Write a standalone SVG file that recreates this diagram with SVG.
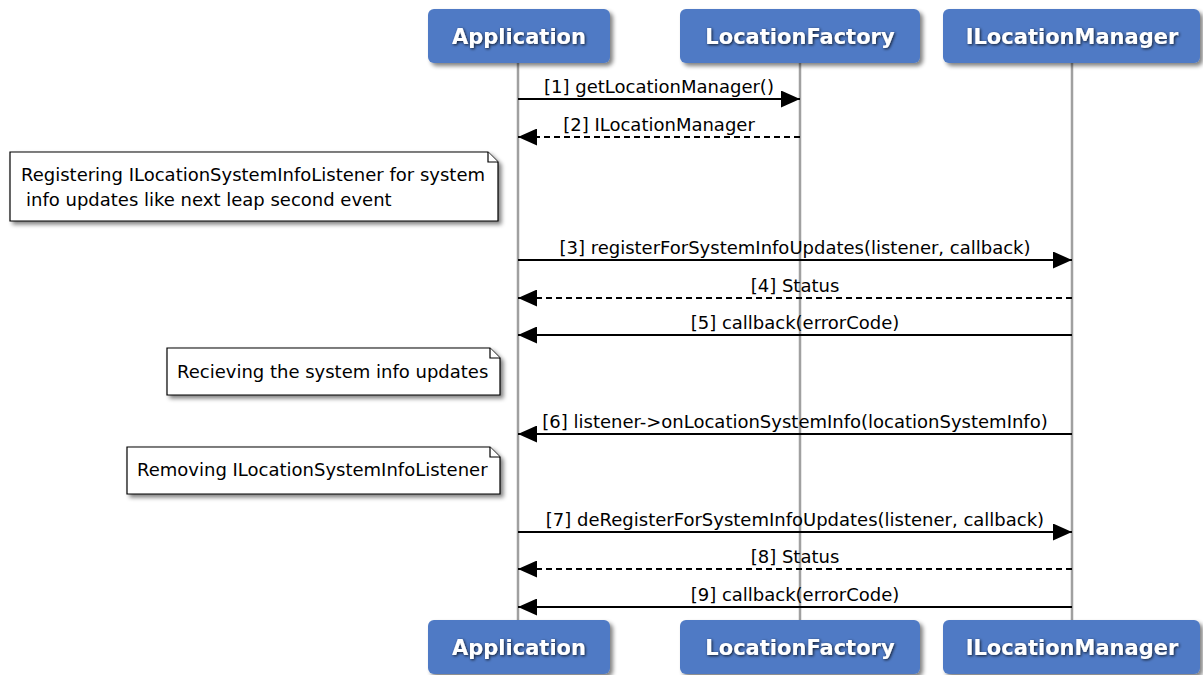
<svg xmlns="http://www.w3.org/2000/svg" width="1203" height="675" viewBox="0 0 1203 675">
<defs>
<filter id="sh" x="-10%" y="-20%" width="130%" height="160%">
<feGaussianBlur in="SourceAlpha" stdDeviation="2"/>
<feOffset dx="3" dy="3" result="b"/>
<feComponentTransfer><feFuncA type="linear" slope="0.5"/></feComponentTransfer>
<feMerge><feMergeNode/><feMergeNode in="SourceGraphic"/></feMerge>
</filter>
<filter id="ts" x="-10%" y="-30%" width="120%" height="160%">
<feGaussianBlur in="SourceAlpha" stdDeviation="1.5"/>
<feOffset dx="1" dy="1"/>
<feComponentTransfer><feFuncA type="linear" slope="0.8"/></feComponentTransfer>
<feMerge><feMergeNode/><feMergeNode in="SourceGraphic"/></feMerge>
</filter>
<marker id="ah" markerWidth="19" markerHeight="17" refX="19" refY="8.5" orient="auto" markerUnits="userSpaceOnUse">
<path d="M0,0 L19,8.5 L0,17 z" fill="#000"/>
</marker>
</defs>
<style>
.box{fill:#4f7ac5;filter:url(#sh)}
.bt{font-family:"DejaVu Sans",sans-serif;font-weight:bold;font-size:21px;fill:#fff;text-anchor:middle;filter:url(#ts)}
.life{stroke:#a0a0a0;stroke-width:2.5;fill:none}
.msg{stroke:#000;stroke-width:2;fill:none;marker-end:url(#ah)}
.dash{stroke-dasharray:6,4}
.ml{font-family:"DejaVu Sans",sans-serif;font-size:18px;fill:#000;text-anchor:middle}
.note{fill:#fff;stroke:#000;stroke-width:1.2;filter:url(#sh)}
.fold{fill:#fff;stroke:#000;stroke-width:1.2}
.nt{font-family:"DejaVu Sans",sans-serif;font-size:18px;fill:#000}
</style>
<rect width="1203" height="675" fill="#fff"/>
<g id="lifelines">
<line class="life" x1="518" y1="63" x2="518" y2="620"/>
<line class="life" x1="800" y1="63" x2="800" y2="620"/>
<line class="life" x1="1072" y1="63" x2="1072" y2="620"/>
</g>
<g id="Application">
<rect class="box" x="428" y="9" width="182" height="54" rx="6"/>
<text class="bt" x="519" y="44">Application</text>
<rect class="box" x="428" y="620" width="182" height="54" rx="6"/>
<text class="bt" x="519" y="655">Application</text>
</g>
<g id="LocationFactory">
<rect class="box" x="680" y="9" width="240" height="54" rx="6"/>
<text class="bt" x="800" y="44">LocationFactory</text>
<rect class="box" x="680" y="620" width="240" height="54" rx="6"/>
<text class="bt" x="800" y="655">LocationFactory</text>
</g>
<g id="ILocationManager">
<rect class="box" x="943" y="9" width="257" height="54" rx="6"/>
<text class="bt" x="1072" y="44">ILocationManager</text>
<rect class="box" x="943" y="620" width="257" height="54" rx="6"/>
<text class="bt" x="1072" y="655">ILocationManager</text>
</g>
<g id="note1">
<path class="note" d="M10,152 H488 L498,162 V221 H10 Z"/>
<path class="fold" d="M488,152 V162 H498"/>
<text class="nt" x="21" y="181">Registering ILocationSystemInfoListener for system</text>
<text class="nt" x="26" y="206">info updates like next leap second event</text>
</g>
<g id="note2">
<path class="note" d="M167,348 H490 L500,358 V395 H167 Z"/>
<path class="fold" d="M490,348 V358 H500"/>
<text class="nt" x="177" y="378">Recieving the system info updates</text>
</g>
<g id="note3">
<path class="note" d="M127,447 H490 L500,457 V494 H127 Z"/>
<path class="fold" d="M490,447 V457 H500"/>
<text class="nt" x="137" y="476">Removing ILocationSystemInfoListener</text>
</g>
<g id="connectors">
<line class="msg" x1="518" y1="99" x2="800" y2="99"/>
<text class="ml" x="659" y="93">[1] getLocationManager()</text>
<line class="msg dash" x1="800" y1="137" x2="518" y2="137"/>
<text class="ml" x="659" y="131">[2] ILocationManager</text>
<line class="msg" x1="518" y1="260" x2="1072" y2="260"/>
<text class="ml" x="795" y="254">[3] registerForSystemInfoUpdates(listener, callback)</text>
<line class="msg dash" x1="1072" y1="298" x2="518" y2="298"/>
<text class="ml" x="795" y="292">[4] Status</text>
<line class="msg" x1="1072" y1="335" x2="518" y2="335"/>
<text class="ml" x="795" y="329">[5] callback(errorCode)</text>
<line class="msg" x1="1072" y1="434" x2="518" y2="434"/>
<text class="ml" x="795" y="428">[6] listener-&gt;onLocationSystemInfo(locationSystemInfo)</text>
<line class="msg" x1="518" y1="532" x2="1072" y2="532"/>
<text class="ml" x="795" y="526">[7] deRegisterForSystemInfoUpdates(listener, callback)</text>
<line class="msg dash" x1="1072" y1="569" x2="518" y2="569"/>
<text class="ml" x="795" y="563">[8] Status</text>
<line class="msg" x1="1072" y1="607" x2="518" y2="607"/>
<text class="ml" x="795" y="601">[9] callback(errorCode)</text>
</g>
</svg>
